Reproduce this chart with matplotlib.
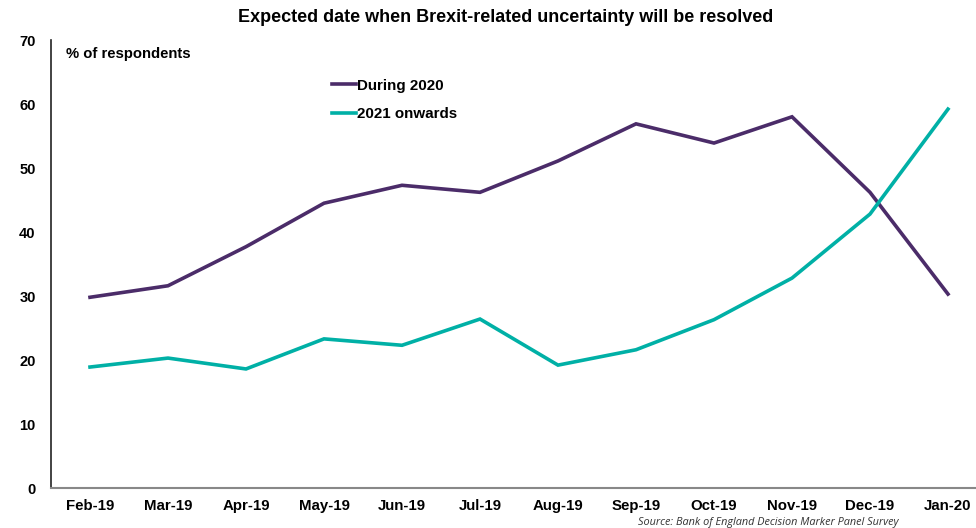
import matplotlib
matplotlib.use("Agg")
import matplotlib.pyplot as plt

months = ["Feb-19", "Mar-19", "Apr-19", "May-19", "Jun-19", "Jul-19",
          "Aug-19", "Sep-19", "Oct-19", "Nov-19", "Dec-19", "Jan-20"]
during_2020 = [29.8, 31.6, 37.7, 44.5, 47.3, 46.2, 51.1, 56.9, 53.9, 58.0, 46.2, 30.3]
onwards_2021 = [18.9, 20.3, 18.6, 23.3, 22.3, 26.4, 19.2, 21.6, 26.3, 32.8, 42.8, 59.2]
yticks = [0, 10, 20, 30, 40, 50, 60, 70]

plt.rcParams['font.family'] = ['Liberation Sans', 'DejaVu Sans']

fig = plt.figure(figsize=(9.76, 5.28), dpi=100)
ax = fig.add_axes([51/976, (528-488)/528, (987-51)/976, (488-40)/528])

x = list(range(len(months)))
ax.plot(x, during_2020, color="#4B2C69", lw=2.6, label="During 2020", solid_joinstyle='miter')
ax.plot(x, onwards_2021, color="#00B0A6", lw=2.6, label="2021 onwards", solid_joinstyle='miter')

ax.set_xlim(-0.5, 11.5)
ax.set_ylim(0, 70)
ax.set_yticks(yticks)
ax.set_xticks(x)
ax.set_xticklabels(months, fontweight='bold', fontsize=10.8)
ax.set_yticklabels([str(v) for v in yticks], fontweight='bold', fontsize=10.5)
ax.tick_params(axis='both', length=0)
ax.tick_params(axis='x', pad=8)
ax.tick_params(axis='y', pad=11)

for s in ['top', 'right']:
    ax.spines[s].set_visible(False)
ax.spines['left'].set_color('#222222')
ax.spines['bottom'].set_color('#888888')
ax.spines['left'].set_linewidth(1.2)
ax.spines['bottom'].set_linewidth(1.5)

fig.text(506/976, 1 - 18/528, "Expected date when Brexit-related uncertainty will be resolved",
         ha='center', va='center', fontsize=13, fontweight='bold')
fig.text(66/976, 1 - 54/528, "% of respondents", ha='left', va='center',
         fontsize=10.7, fontweight='bold')

leg = ax.legend(loc='upper left', frameon=False, handlelength=1.6,
                handletextpad=0.05, labelspacing=0.98, prop={'weight': 'bold', 'size': 10.9})
leg.set_bbox_to_anchor((318/976, 1 - 65/528), transform=fig.transFigure)

fig.text(898/976, 1 - 522/528, "Source: Bank of England Decision Marker Panel Survey",
         ha='right', va='center', fontsize=7.8, style='italic', color='#333333',
         family=['Open Sans', 'DejaVu Sans'])

fig.savefig("out.png", dpi=100)
